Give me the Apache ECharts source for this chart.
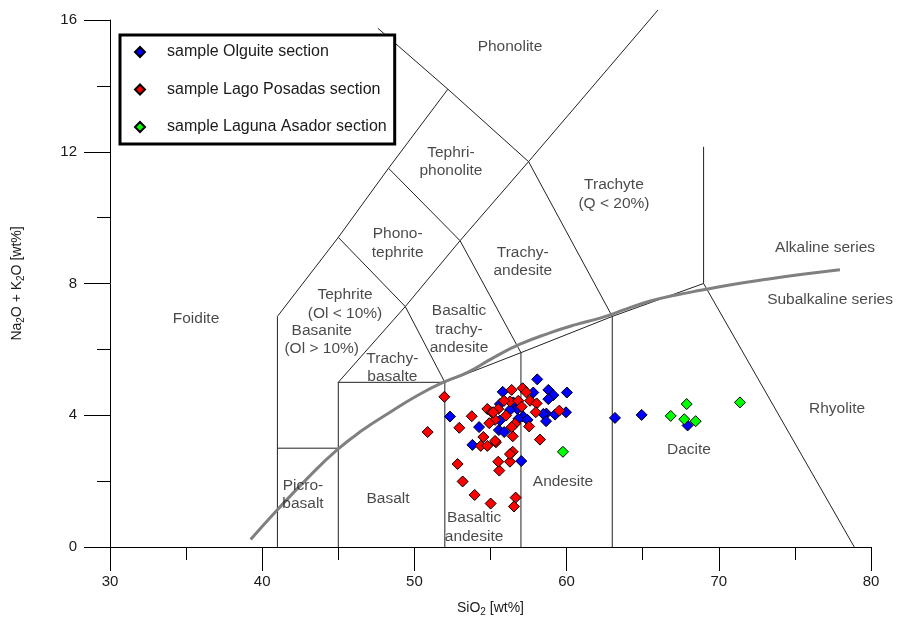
<!DOCTYPE html>
<html>
<head>
<meta charset="utf-8">
<script src="https://cdn.jsdelivr.net/npm/echarts@6/dist/echarts.min.js"></script>
<style>
html,body{margin:0;padding:0;background:#fff;}
#chart{width:898px;height:622px;}
</style>
</head>
<body>
<div id="chart"></div>
<script>
// ---- Data: TAS diagram ----
const xTicks = [30, 40, 50, 60, 70, 80];
const yTicks = [0, 4, 8, 12, 16];

const olguite = [
  [58.07,5.09],[55.8,4.71],[57.81,4.69],[58.8,4.77],[59.13,4.61],[58.8,4.49],[60.02,4.69],
  [52.34,3.96],[54.25,3.64],[53.81,3.1],[55.55,3.55],[55.9,3.49],[57.02,2.61],[58.67,4.05],
  [59.24,4.02],[59.96,4.09],[58.47,4.04],[58.65,3.82],[55.62,4.34],[56.5,4.39],[56.76,4.19],
  [57.15,3.96],[56.28,4.16],[55.62,3.84],[56.83,3.89],[57.43,3.86],
  [63.18,3.92],[64.93,4.01],[67.95,3.69]
];
const lagoPosadas = [
  [51.97,4.56],[50.87,3.49],[53.77,3.97],[52.95,3.62],[52.84,2.52],[53.17,1.99],[53.96,1.58],
  [55.01,1.32],[56.65,1.5],[56.54,1.23],[55.58,2.32],[55.51,2.59],[56.28,2.59],[56.46,2.89],
  [56.28,2.82],[58.25,3.26],[54.53,3.34],[54.36,3.07],[54.79,3.07],[55.36,3.18],[56.46,3.36],
  [56.39,4.77],[57.11,4.82],[57.35,4.7],[54.79,4.19],[55.08,4.09],[55.51,4.19],[55.3,3.86],
  [54.92,3.76],[56.02,3.99],[56.28,4.42],[55.89,4.44],[56.83,4.44],[57.05,4.26],[57.6,4.44],
  [58.03,4.36],[57.97,4.09],[56.61,3.74],[56.39,3.64],[57.54,3.66],[59.52,4.14],[55.18,4.09],
  [55.3,3.22]
];
const lagunaAsador = [
  [59.76,2.89],[66.84,3.98],[67.89,4.34],[67.73,3.88],[68.48,3.82],[71.39,4.39]
];

// Field boundaries (SiO2, Na2O+K2O)
const boundaries = [
  [[41,0],[41,7],[45,9.4],[48.3,11.5],[52.2,13.9],[47.6,15.75]],
  [[52.2,13.9],[57.5,11.7],[66,16.3]],
  [[57.5,11.7],[63,7]],
  [[48.3,11.5],[53,9.3],[57.5,11.7]],
  [[45,9.4],[49.4,7.3],[53,9.3]],
  [[53,9.3],[57,5.9]],
  [[45,0],[45,5],[52,5],[57,5.9],[63,7],[69,8],[78.9,0]],
  [[45,5],[49.4,7.3],[52,5]],
  [[41,3],[45,3]],
  [[52,0],[52,5]],
  [[57,0],[57,5.9]],
  [[63,0],[63,7]],
  [[69,8],[69,12.15]]
];

// Alkaline / subalkaline divide
const alkalineCurve = [
  [39.24,0.23],[41,1.13],[43,2.1],[44.9,2.94],[46.6,3.55],[48.4,4.09],[50.2,4.6],[51.9,5.0],
  [53.5,5.3],[55.2,5.75],[56.9,6.15],[58.9,6.5],[60.6,6.75],[62.2,6.95],[63.9,7.22],[65.5,7.47],
  [67.2,7.65],[68.9,7.8],[71,7.98],[73,8.12],[75.5,8.28],[77.96,8.42]
];

// Field labels
const fieldLabels = [
  ['Phonolite', 56.28, 15.19],
  ['Tephri-\nphonolite', 52.4, 11.7],
  ['Trachyte\n(Q < 20%)', 63.11, 10.71],
  ['Phono-\ntephrite', 48.9, 9.22],
  ['Trachy-\nandesite', 57.12, 8.66],
  ['Foidite', 35.65, 6.92],
  ['Tephrite\n(Ol < 10%)', 45.44, 7.37],
  ['Basanite\n(Ol > 10%)', 43.91, 6.30],
  ['Basaltic\ntrachy-\nandesite', 52.93, 6.61],
  ['Trachy-\nbasalte', 48.55, 5.44],
  ['Alkaline series', 76.98, 9.08],
  ['Subalkaline series', 77.31, 7.52],
  ['Rhyolite', 77.77, 4.21],
  ['Dacite', 68.04, 2.95],
  ['Andesite', 59.76, 1.98],
  ['Picro-\nbasalt', 42.68, 1.59],
  ['Basalt', 48.27, 1.47],
  ['Basaltic\nandesite', 53.92, 0.60]
];

const seriesNames = ['sample Olguite section', 'sample Lago Posadas section', 'sample Laguna Asador section'];
const seriesColors = ['#0000ff', '#ff0000', '#00ff00'];

// ---- Chart ----
const chart = echarts.init(document.getElementById('chart'), null, {renderer: 'canvas'});
const FONT = 'Liberation Sans, Arial, sans-serif';

const series = [];
boundaries.forEach(function (b) {
  series.push({
    type: 'line', data: b, symbol: 'none', silent: true, clip: false,
    lineStyle: {color: '#222', width: 1}, z: 1
  });
});
series.push({
  type: 'line', data: alkalineCurve, symbol: 'none', smooth: true, silent: true,
  lineStyle: {color: '#808080', width: 3}, z: 2
});
series.push({
  type: 'scatter', silent: true, symbolSize: 0.1, z: 3,
  itemStyle: {color: 'transparent'},
  data: fieldLabels.map(function (l) { return {name: l[0], value: [l[1], l[2]]}; }),
  label: {
    show: true, position: 'inside', formatter: '{b}',
    fontFamily: FONT, fontSize: 15.5, lineHeight: 18.5, color: '#1a1a1a', align: 'center'
  }
});
[olguite, lagoPosadas, lagunaAsador].forEach(function (d, i) {
  series.push({
    type: 'scatter', name: seriesNames[i], data: d, symbol: 'diamond', symbolSize: 11, z: 5,
    itemStyle: {color: seriesColors[i], borderColor: '#000', borderWidth: 1, opacity: 1}
  });
});

chart.setOption({
  animation: false,
  backgroundColor: '#fff',
  textStyle: {fontFamily: FONT},
  grid: {left: 110, right: 27, top: 20, bottom: 70, containLabel: false},
  legend: {
    orient: 'vertical', left: 120, top: 35,
    padding: [9, 8, 9, 14], itemGap: 21.5, itemWidth: 10, itemHeight: 10,
    borderColor: '#000', borderWidth: 3, backgroundColor: '#fff',
    icon: 'diamond', selectedMode: false,
    textStyle: {fontFamily: FONT, fontSize: 16, color: '#1a1a1a', padding: [0, 0, 0, 17]},
    data: seriesNames
  },
  xAxis: {
    type: 'value', min: xTicks[0], max: xTicks[xTicks.length - 1], interval: 10,
    axisLine: {show: true, onZero: false, lineStyle: {color: '#000', width: 1}},
    axisTick: {show: true, length: 24, lineStyle: {color: '#000'}},
    minorTick: {show: true, splitNumber: 2, length: 13, lineStyle: {color: '#000'}},
    splitLine: {show: false},
    axisLabel: {margin: 27, fontSize: 15, color: '#1a1a1a', fontFamily: FONT},
    name: 'SiO{sub|2} [wt%]', nameLocation: 'middle', nameGap: 52,
    nameTextStyle: {
      fontFamily: FONT, fontSize: 14, color: '#1a1a1a',
      rich: {sub: {fontSize: 10, padding: [8, 0, 0, 0], fontFamily: FONT, color: '#1a1a1a'}}
    }
  },
  yAxis: {
    type: 'value', min: yTicks[0], max: yTicks[yTicks.length - 1], interval: 4,
    axisLine: {show: true, onZero: false, lineStyle: {color: '#000', width: 1}},
    axisTick: {show: true, length: 26, lineStyle: {color: '#000'}},
    minorTick: {show: true, splitNumber: 2, length: 13, lineStyle: {color: '#000'}},
    splitLine: {show: false},
    axisLabel: {margin: 33, fontSize: 15, color: '#1a1a1a', fontFamily: FONT},
    name: 'Na{sub|2}O + K{sub|2}O [wt%]', nameLocation: 'middle', nameGap: 84,
    nameTextStyle: {
      fontFamily: FONT, fontSize: 14, color: '#1a1a1a',
      rich: {sub: {fontSize: 10, padding: [8, 0, 0, 0], fontFamily: FONT, color: '#1a1a1a'}}
    }
  },
  series: series
});
</script>
</body>
</html>
